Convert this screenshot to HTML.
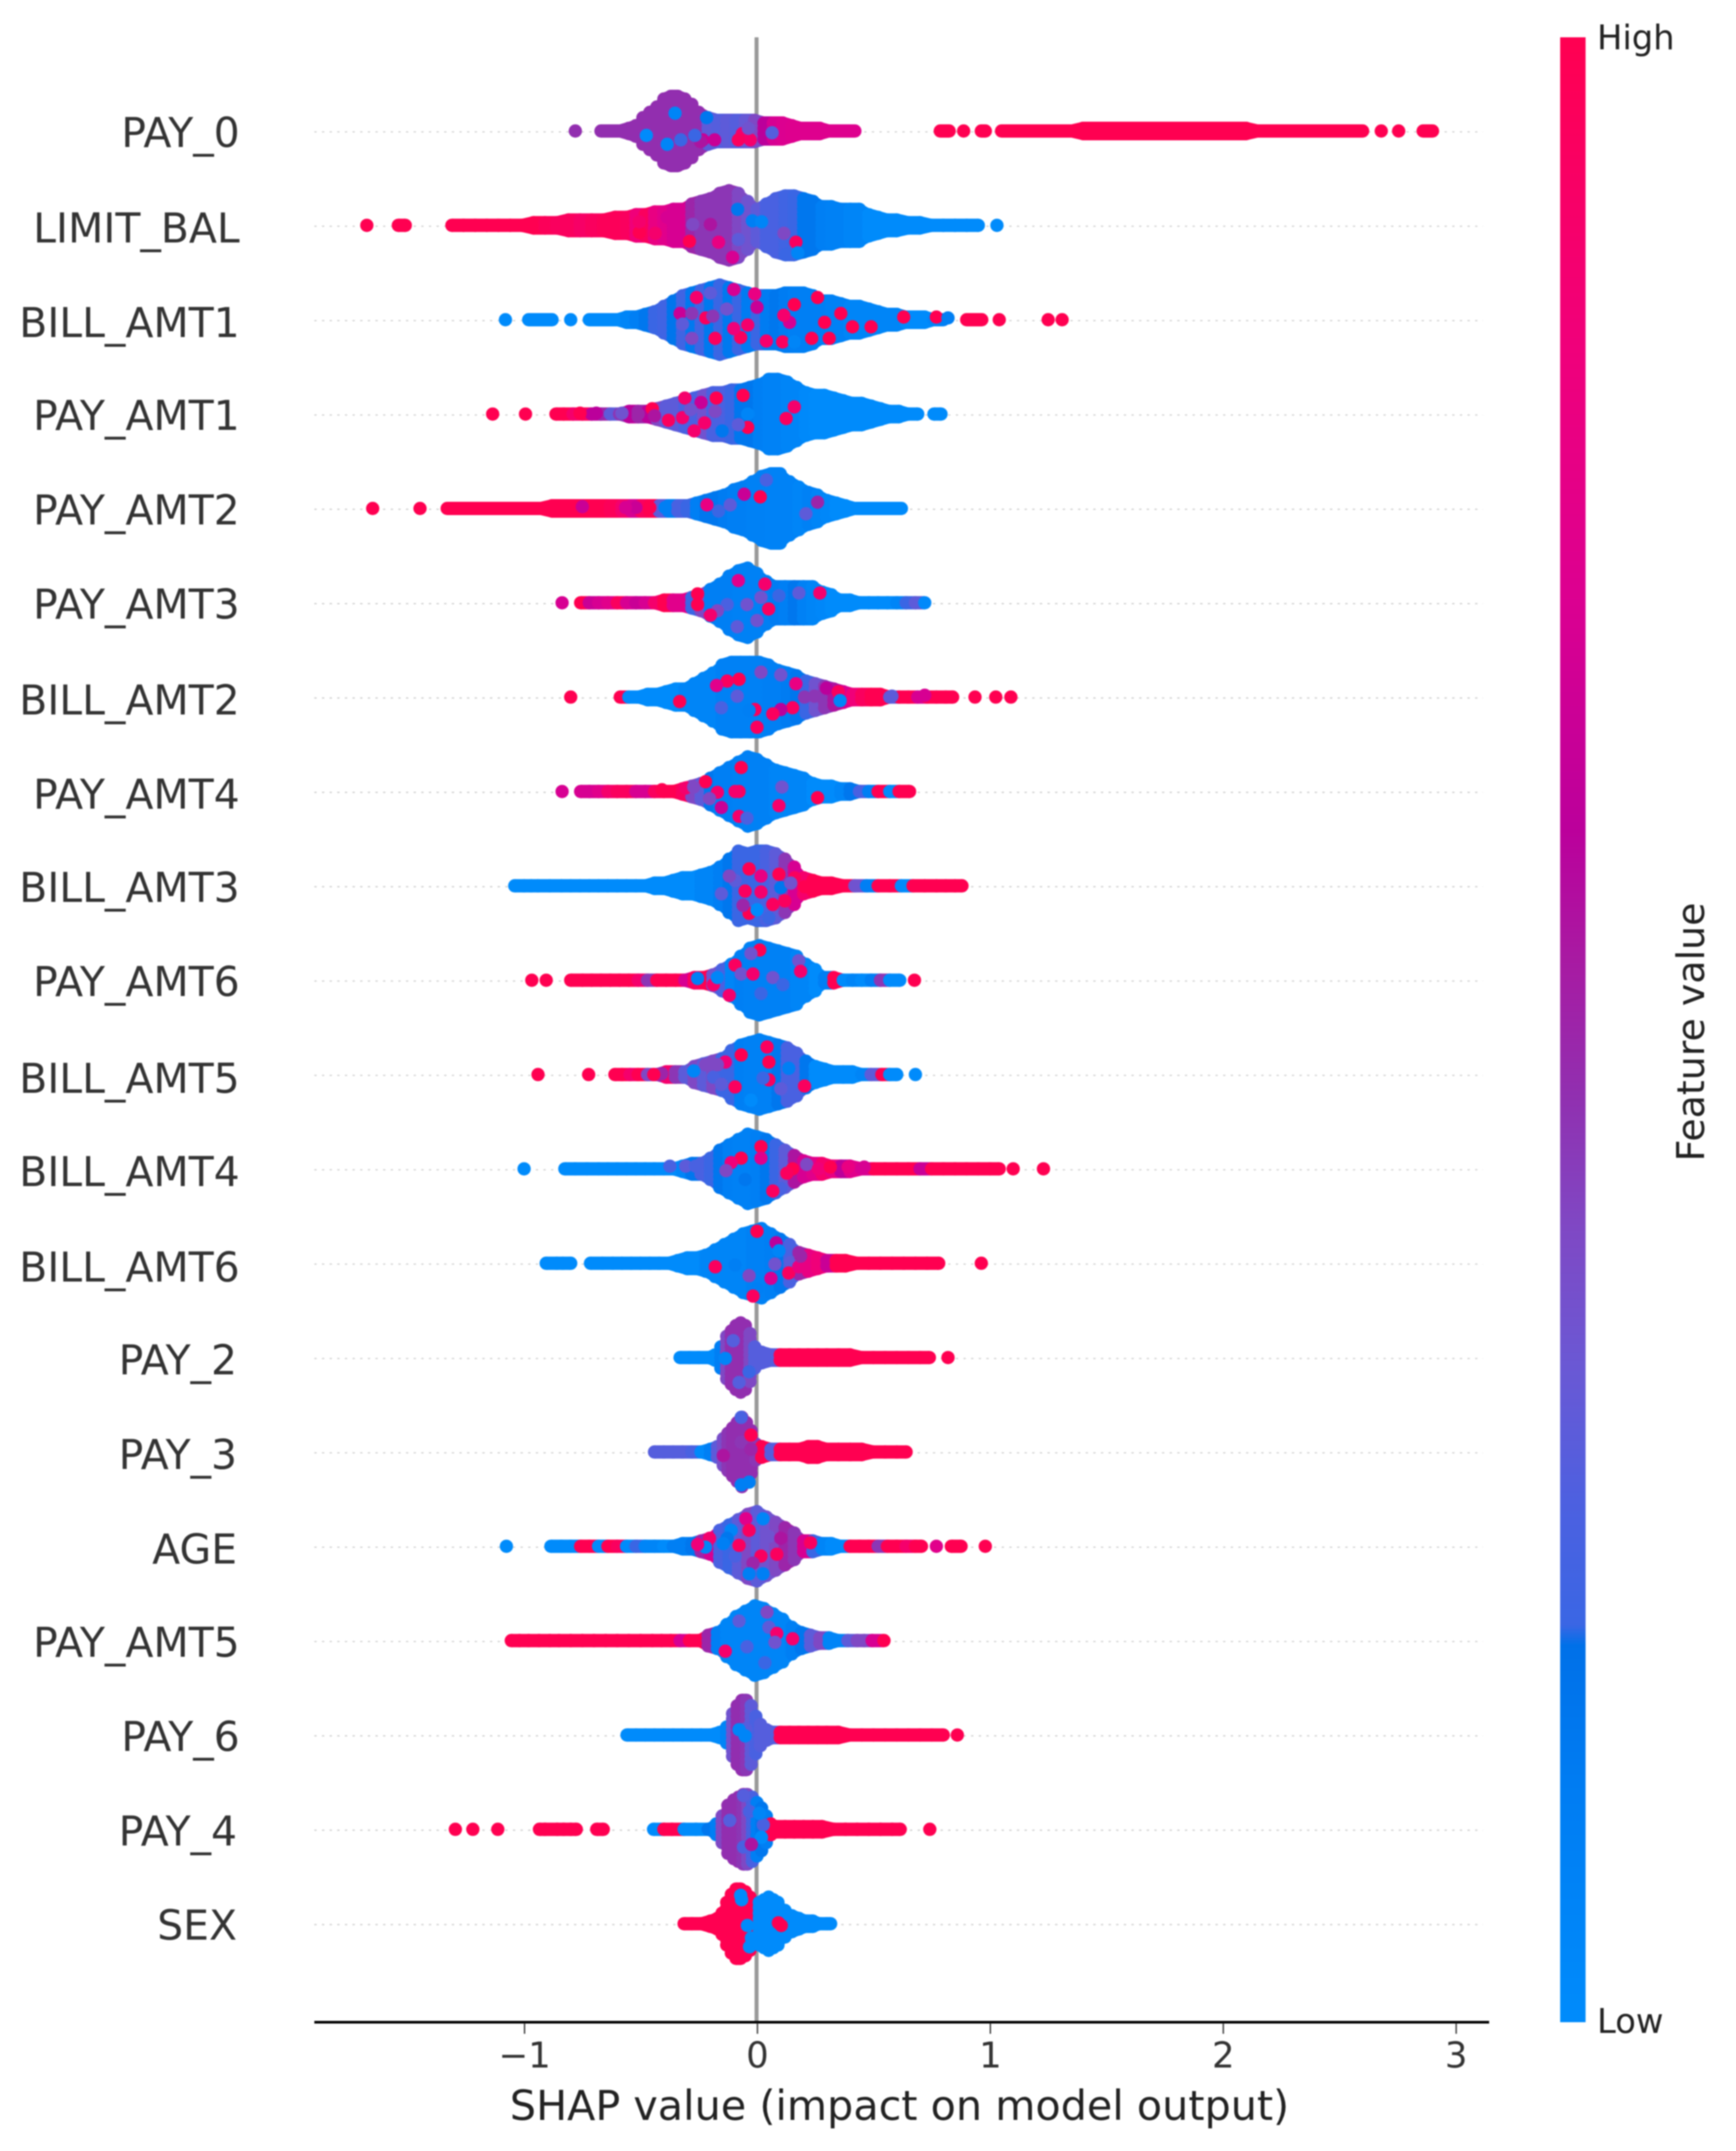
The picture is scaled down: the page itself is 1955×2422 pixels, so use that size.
<!DOCTYPE html>
<html lang="en">
<head>
<meta charset="utf-8">
<title>SHAP summary plot</title>
<style>
html,body{margin:0;padding:0;background:#fff;}
svg{display:block;filter:blur(.9px);font-family:"DejaVu Sans","Liberation Sans",sans-serif;}
</style>
</head>
<body>
<svg id="chart" xmlns="http://www.w3.org/2000/svg" width="1955" height="2422" viewBox="0 0 1955 2422">
  <defs><linearGradient id="cbar" x1="0" y1="0" x2="0" y2="1"></linearGradient></defs>
  <rect x="0" y="0" width="1955" height="2422" fill="#fff"/>
  <g id="grid"></g>
  <line x1="852" y1="42" x2="852" y2="2277" stroke="#999999" stroke-width="4.5"/>
  <g id="swarm"></g>
  <g id="labels"></g>
  <line x1="354" y1="2277" x2="1677" y2="2277" stroke="#000" stroke-width="3"/>
  <g id="ticks"></g>
  <text x="1013" y="2387" text-anchor="middle" font-size="46.5" fill="#222">SHAP value (impact on model output)</text>
  <rect x="1757" y="42" width="28.6" height="2235" fill="url(#cbar)"/>
  <text x="1798.5" y="55.5" font-size="38" fill="#222">High</text>
  <text x="1798.5" y="2289" font-size="38" fill="#222">Low</text>
  <text transform="translate(1919,1162) rotate(-90)" text-anchor="middle" font-size="42.7" fill="#222">Feature value</text>
</svg>
<script>
const featureNames=["PAY_0","LIMIT_BAL","BILL_AMT1","PAY_AMT1","PAY_AMT2","PAY_AMT3","BILL_AMT2","PAY_AMT4","BILL_AMT3","PAY_AMT6","BILL_AMT5","BILL_AMT4","BILL_AMT6","PAY_2","PAY_3","AGE","PAY_AMT5","PAY_6","PAY_4","SEX"];
const xTickValues=[-1,0,1,2,3];
const colorFractions=[0,.154,.28,.40,.465,.535,.60,.67,.74,.80,.81,.88,1];
const colorHexes=["#ff0051","#f0007a","#dc0090","#bb009b","#a81aa2","#9030b0","#7f48c4","#6a58d4","#4c60e0","#3a66e4","#0070e8","#007cf2","#008bfb"];

/* Each feature: SHAP bin, dots piled in the bin, lowness of feature value (0 = High, 1 = Low), plus individually visible dots */
const PAY_0_shap=[-.78,-.67,-.63,-.59,-.55,-.52,-.49,-.46,-.43,-.40,-.37,-.34,-.31,-.28,-.25,-.21,-.17,-.13,-.09,-.05,-.01,.03,.07,.11,.15,.19,.23,.27,.31,.35,.39,.42,.787,.825,.887,.963,.98,1.05,1.10,1.15,1.20,1.25,1.30,1.35,1.40,1.45,1.50,1.55,1.60,1.65,1.70,1.75,1.80,1.85,1.90,1.95,2.00,2.05,2.10,2.15,2.20,2.25,2.30,2.35,2.40,2.45,2.50,2.55,2.60,2.68,2.755,2.86,2.9];
const PAY_0_pile=[1,1,1,1,2,3,6,8,10,13,14,14,13,11,8,6,5,5,5,5,5,4,4,4,3,2,2,2,1,1,1,1,1,1,1,1,1,1,1,1,1,1,1,1,2,2,2,2,2,2,2,2,2,2,2,2,2,2,2,1,1,1,1,1,1,1,1,1,1,1,1,1,1];
const PAY_0_low=[.53,.53,.53,.53,.53,.53,.53,.53,.53,.53,.53,.53,.53,.53,.53,.7,.72,.7,.72,.68,.6,.4,.3,.28,.27,.27,.27,.27,.27,.27,.27,.27,0,0,0,0,0,0,0,0,0,0,0,0,0,0,0,0,0,0,0,0,0,0,0,0,0,0,0,0,0,0,0,0,0,0,0,0,0,0,0,0,0];
const PAY_0_spotShap=[-.475,-.352,-.327,-.233,-.182,-.063,-.029,.065,-.037,-.216,-.386,-.242,-.08,-.267];
const PAY_0_spotJitter=[5,-20,10,10,10,3,10,2,-3,-15,15,12,10,5];
const PAY_0_spotLow=[1,.95,.8,.35,.35,.1,.1,.72,.65,.85,.95,.45,.05,.8];

const LIMIT_BAL_shap=[-1.675,-1.54,-1.51,-1.31,-1.26,-1.21,-1.16,-1.11,-1.06,-1.01,-.96,-.91,-.86,-.81,-.76,-.71,-.66,-.61,-.56,-.52,-.48,-.44,-.40,-.36,-.32,-.28,-.24,-.20,-.16,-.12,-.08,-.04,0,.04,.08,.12,.16,.20,.24,.28,.32,.36,.40,.44,.48,.52,.56,.60,.65,.70,.75,.80,.85,.90,.95,1.03];
const LIMIT_BAL_pile=[1,1,1,1,1,1,1,1,1,1,2,2,2,3,3,3,3,4,4,5,5,6,6,7,7,9,10,11,13,14,13,10,7,9,11,12,12,11,10,8,8,7,7,7,5,4,3,3,2,2,1,1,1,1,1,1];
const LIMIT_BAL_low=[0,0,0,0,0,0,0,0,0,0,0,.03,.05,.05,.08,.05,.03,.03,.05,.15,.05,.2,.25,.3,.3,.5,.55,.55,.55,.55,.6,.65,.7,.75,.75,.78,.8,.85,.85,.9,.92,.92,.95,.95,1,1,1,1,1,1,1,1,1,1,1,1];
const LIMIT_BAL_spotShap=[-.083,-.02,-.29,-.505,-.437,-.386,.167,.124,.175,.116,-.105,-.165,-.2,-.276,-.08,.02,-.505];
const LIMIT_BAL_spotJitter=[-18,-5,18,8,9,-9,19,33,31,9,36,19,-1,-1,16,-4,-4];
const LIMIT_BAL_spotLow=[.85,.9,0,0,.1,.3,.05,.8,.95,.6,.3,.2,.45,.6,.7,.95,.1];

const BILL_AMT1_shap=[-1.08,-.98,-.94,-.90,-.88,-.80,-.72,-.68,-.64,-.60,-.56,-.52,-.48,-.44,-.40,-.36,-.32,-.28,-.24,-.20,-.16,-.12,-.08,-.04,0,.04,.08,.12,.16,.20,.24,.28,.32,.36,.40,.44,.48,.52,.56,.60,.64,.68,.72,.76,.80,.90,.93,.965,1.04,1.25,1.31];
const BILL_AMT1_pile=[1,1,1,1,1,1,1,1,1,1,2,2,3,4,6,8,10,11,12,13,14,13,12,11,10,10,10,11,11,11,10,8,8,7,6,6,5,4,3,3,2,2,2,1,1,1,1,1,1,1,1];
const BILL_AMT1_low=[1,1,1,1,1,1,1,1,1,1,.95,.9,.85,.8,.78,.84,.78,.86,.78,.86,.8,.86,.8,.88,.8,.88,.85,.88,.9,.9,.9,.9,.92,.92,.95,.95,.95,.95,.95,.95,1,1,1,.95,.9,0,0,0,0,0,0];
const BILL_AMT1_spotShap=[-.26,-.2,-.1,-.01,-.33,-.28,-.22,-.19,-.13,0,-.04,-.18,-.07,.04,.11,.16,-.1,.16,.26,.235,.31,.29,.41,.49,.36,.63,.77,.82,.14,.115,-.32,-.28];
const BILL_AMT1_spotJitter=[-25,-30,-34,-29,-7,-7,-2,-4,-12,-14,6,21,20,24,25,25,10,-17,-25,21,21,3,8,8,-7,-3,-3,-2,3,-5,5,21];
const BILL_AMT1_spotLow=[.1,.7,.3,.2,.35,.55,.05,.55,.65,.35,.1,.05,.05,.1,.05,.95,.15,0,0,0,0,0,0,0,0,0,0,.9,.3,.1,.7,.6];

const PAY_AMT1_shap=[-1.135,-.994,-.863,-.83,-.79,-.75,-.71,-.67,-.63,-.59,-.55,-.51,-.47,-.43,-.39,-.35,-.31,-.27,-.23,-.19,-.15,-.11,-.07,-.03,.01,.05,.09,.13,.17,.21,.25,.29,.33,.37,.41,.45,.49,.53,.57,.61,.65,.69,.76,.79];
const PAY_AMT1_pile=[1,1,1,1,1,1,1,1,1,1,2,2,2,3,4,5,6,7,8,9,9,10,10,11,12,14,14,13,11,9,8,8,7,6,5,5,4,3,2,2,1,1,1,1];
const PAY_AMT1_low=[0,0,0,0,.1,.05,.4,.5,.7,.55,.4,.5,.4,.6,.7,.7,.75,.75,.65,.75,.75,.8,.85,.85,.9,.93,.93,.95,.95,.98,1,1,1,1,1,1,1,1,1,1,1,1,1,1];
const PAY_AMT1_spotShap=[-.76,-.69,-.58,-.51,-.45,-.44,-.24,-.175,-.06,-.225,-.04,.125,.16,-.31,-.38,-.32,-.15,-.08,-.18,-.39,-.04,-.285,-.27];
const PAY_AMT1_spotJitter=[-1,-1,-1,0,-6,2,-13,-18,-21,10,15,5,-8,-18,7,4,19,12,-3,-8,0,-5,19];
const PAY_AMT1_spotLow=[0,.4,.65,.5,0,.45,.35,0,0,.1,0,.05,.1,.1,.05,.1,.85,.7,.6,.7,.95,.65,.1];

const PAY_AMT2_shap=[-1.65,-1.447,-1.33,-1.28,-1.23,-1.18,-1.13,-1.08,-1.03,-.98,-.93,-.88,-.83,-.78,-.73,-.68,-.63,-.58,-.54,-.5,-.46,-.42,-.38,-.34,-.3,-.26,-.22,-.18,-.14,-.10,-.06,-.02,.02,.06,.10,.14,.18,.22,.26,.30,.34,.38,.42,.47,.52,.57,.62];
const PAY_AMT2_pile=[1,1,1,1,1,1,1,1,1,1,1,2,2,2,2,2,2,2,2,2,2,2,2,2,2,3,4,5,6,8,9,11,13,14,14,11,9,7,6,4,3,2,1,1,1,1,1];
const PAY_AMT2_low=[0,0,0,0,0,0,0,0,0,0,0,0,0,0,0,0,.03,.1,.3,.05,0,.7,.9,.75,.8,.9,.85,.85,.88,.9,.9,.92,.92,.93,.93,.93,.95,.92,.95,.97,1,1,1,1,1,1,1];
const PAY_AMT2_spotShap=[-.055,.014,.04,-.165,.26,-.115,.21,-.215,-.395,-.46,-.52,-.565,-.75];
const PAY_AMT2_spotJitter=[-16,-13,-32,3,-7,-4,6,-4,-1,-1,-1,-1,-2];
const PAY_AMT2_spotLow=[.35,0,.75,.8,.5,.7,.7,.2,.9,0,.35,.3,.35];

const PAY_AMT3_shap=[-.837,-.757,-.72,-.68,-.64,-.60,-.56,-.52,-.48,-.44,-.40,-.36,-.32,-.28,-.24,-.20,-.16,-.12,-.08,-.04,0,.04,.08,.12,.16,.20,.24,.28,.32,.36,.40,.44,.48,.52,.56,.60,.64,.68,.72];
const PAY_AMT3_pile=[1,1,1,1,1,1,1,1,1,1,2,2,2,3,4,6,8,11,13,14,12,9,7,7,7,7,7,5,4,2,2,1,1,1,1,1,1,1,1];
const PAY_AMT3_low=[.3,0,.35,.3,.25,.05,.3,.35,.3,.1,0,.25,.25,.8,.6,.9,.9,.9,.92,.92,.92,.9,.88,.9,.85,.92,.95,.97,1,1,1,1,1,1,1,.95,.8,.7,.98];
const PAY_AMT3_spotShap=[-.08,-.255,-.255,.017,-.043,-.128,.27,-.17,0,-.085,-.2,.18,.094,.034,.05];
const PAY_AMT3_spotJitter=[-25,-10,2,-6,2,2,-11,9,20,27,14,-11,-8,-21,7];
const PAY_AMT3_spotLow=[.25,0,0,.65,.65,.75,.1,.6,.65,.7,.1,.7,.8,.1,.05];

const BILL_AMT2_shap=[-.8,-.587,-.55,-.51,-.47,-.43,-.39,-.35,-.31,-.27,-.23,-.19,-.15,-.11,-.07,-.03,.01,.05,.09,.13,.17,.21,.25,.29,.33,.37,.41,.45,.49,.53,.57,.61,.65,.69,.73,.77,.81,.84,.936,1.025,1.09];
const BILL_AMT2_pile=[1,1,1,1,2,2,3,4,4,6,8,10,13,14,14,14,14,13,11,10,9,7,6,5,4,3,2,2,2,2,1,1,1,1,1,1,1,1,1,1,1];
const BILL_AMT2_low=[0,0,1,1,1,1,1,1,.95,.95,.95,.95,.92,.92,.92,.92,.92,.9,.9,.88,.85,.8,.65,.55,.45,.3,.15,.05,0,0,.7,0,0,.3,0,0,0,0,0,0,0];
const BILL_AMT2_spotShap=[-.077,-.128,-.174,-.085,.017,.102,.167,.204,.247,.298,.349,.357,.153,.102,.068,-.009,-.034,0,-.332,-.153,.579,.72];
const BILL_AMT2_spotJitter=[-20,-18,-13,-1,-28,-25,-15,0,-1,-10,-6,4,12,14,19,14,15,34,5,12,-1,-2];
const BILL_AMT2_spotLow=[0,.05,.25,.7,.6,.65,.2,.55,.55,.4,.05,.95,.05,.4,.05,.05,.9,.05,0,.75,.7,.3];

const PAY_AMT4_shap=[-.837,-.757,-.72,-.68,-.64,-.60,-.56,-.52,-.48,-.44,-.40,-.36,-.32,-.28,-.24,-.20,-.16,-.12,-.08,-.04,0,.04,.08,.12,.16,.20,.24,.28,.32,.36,.40,.44,.48,.52,.57,.61,.655];
const PAY_AMT4_pile=[1,1,1,1,1,1,1,1,1,1,1,1,2,3,4,6,8,10,12,14,13,11,9,8,7,6,4,3,3,2,2,1,1,1,1,1,1];
const PAY_AMT4_low=[.3,.3,.3,.25,.1,.05,.05,.3,.3,.05,0,0,.05,.6,.7,.85,.9,.9,.92,.92,.92,.92,.95,.95,.95,.95,1,1,1,.95,.85,.75,.9,0,1,0,0];
const PAY_AMT4_spotShap=[-.221,-.306,-.272,-.408,-.17,-.204,-.153,-.077,-.043,.107,.26,.094,-.077,-.068,-.094];
const PAY_AMT4_spotJitter=[-11,-4,-5,-2,1,8,18,28,30,-5,7,16,0,-27,0];
const PAY_AMT4_spotLow=[0,.1,.6,0,.1,.6,.35,.1,.75,.65,0,.1,.05,0,.1];

const BILL_AMT3_shap=[-1.04,-1.0,-.97,-.94,-.89,-.84,-.80,-.76,-.72,-.68,-.64,-.60,-.56,-.52,-.48,-.44,-.40,-.36,-.32,-.28,-.24,-.20,-.16,-.12,-.08,-.04,0,.04,.08,.12,.16,.20,.24,.28,.32,.37,.42,.47,.52,.57,.62,.67,.72,.77,.81,.85,.88];
const BILL_AMT3_pile=[1,1,1,1,1,1,1,1,1,1,1,1,1,1,1,2,2,3,4,4,5,6,8,11,14,13,14,14,13,11,8,4,3,2,2,1,1,1,1,1,1,1,1,1,1,1,1];
const BILL_AMT3_low=[1,1,1,1,1,1,1,1,1,1,1,1,1,1,1,1,1,1,1,1,.95,.95,.9,.85,.8,.8,.8,.75,.7,.55,.3,.1,0,0,0,0,.65,.9,0,0,1,0,0,0,0,0,0];
const BILL_AMT3_spotShap=[-.034,.017,.094,.162,-.094,-.119,-.051,.017,.068,.119,-.034,0,.051,-.06,.102,.145,-.153,.204];
const BILL_AMT3_spotJitter=[-19,-11,-13,-9,-6,-11,6,7,21,17,31,27,36,22,2,-3,9,1];
const BILL_AMT3_spotLow=[0,.2,0,.05,.7,.6,.05,.1,.05,.05,0,1,.8,.5,.85,.65,.7,0];

const PAY_AMT6_shap=[-.967,-.905,-.8,-.75,-.71,-.67,-.63,-.59,-.55,-.51,-.47,-.43,-.39,-.35,-.31,-.27,-.23,-.19,-.15,-.11,-.07,-.03,.01,.05,.09,.13,.17,.21,.25,.29,.33,.37,.41,.45,.49,.53,.57,.613,.676];
const PAY_AMT6_pile=[1,1,1,1,1,1,1,1,1,1,1,1,1,1,1,2,2,3,5,7,10,13,14,13,12,11,10,7,5,2,2,1,1,1,1,1,1,1,1];
const PAY_AMT6_low=[0,0,0,0,0,0,0,0,0,.1,.55,0,0,0,.3,.05,0,.65,.75,.95,.9,.92,.92,.92,.92,.92,.95,.95,1,.9,0,1,.95,1,.9,.55,1,1,0];
const PAY_AMT6_spotShap=[.012,-.026,-.094,-.068,-.017,.068,.179,.187,-.119,.017,-.187,-.17,-.255,.111];
const PAY_AMT6_spotJitter=[-34,-30,-17,-7,-7,-3,-22,-10,17,15,5,-3,-2,5];
const PAY_AMT6_spotLow=[0,.65,.05,.65,.1,.65,.65,.1,.1,.8,.1,.95,.9,.8];

const BILL_AMT5_shap=[-.94,-.723,-.61,-.58,-.545,-.51,-.47,-.43,-.39,-.35,-.31,-.27,-.23,-.19,-.15,-.11,-.07,-.03,.01,.05,.09,.13,.17,.21,.25,.29,.33,.37,.41,.45,.49,.536,.57,.60,.68];
const BILL_AMT5_pile=[1,1,1,1,1,1,1,1,2,2,2,4,5,6,7,10,12,13,14,13,12,11,9,6,4,3,2,2,2,1,1,1,1,1,1];
const BILL_AMT5_low=[0,0,0,0,.1,0,.6,.5,.1,.55,.7,.6,.7,.6,.8,.8,.9,.92,.92,.92,.85,.75,.75,.85,1,1,1,1,1,.95,.7,0,1,1,1];
const BILL_AMT5_spotShap=[-.068,.051,.043,.051,-.094,.204,-.187,-.153,-.272,.026,.136,-.136,-.221,-.409,-.026,.102,-.17,-.443];
const BILL_AMT5_spotJitter=[-22,-14,-31,6,14,13,3,11,-4,4,-7,-14,-11,-1,29,16,-11,0];
const BILL_AMT5_spotLow=[0,0,.05,.05,.05,.05,.75,.7,.95,.8,.9,.15,.6,.5,1,.7,.6,0];

const BILL_AMT4_shap=[-1.0,-.825,-.78,-.73,-.68,-.64,-.60,-.56,-.52,-.48,-.44,-.40,-.36,-.32,-.28,-.24,-.20,-.16,-.12,-.08,-.04,0,.04,.08,.12,.16,.20,.24,.28,.32,.36,.40,.45,.50,.55,.60,.65,.70,.75,.80,.85,.90,.95,1.0,1.04,1.1,1.23];
const BILL_AMT4_pile=[1,1,1,1,1,1,1,1,1,1,1,1,1,2,3,3,5,8,10,12,14,13,12,10,8,6,4,3,3,2,2,2,1,1,1,1,1,1,1,1,1,1,1,1,1,1,1];
const BILL_AMT4_low=[1,1,1,1,1,1,1,1,1,1,1,1,1,.95,.85,.75,.8,.85,.9,.92,.92,.9,.85,.8,.7,.45,.3,.25,.1,.2,.4,.25,.3,0,0,0,0,.35,0,0,0,0,0,0,0,0,0];
const BILL_AMT4_spotShap=[.017,-.068,.017,-.111,-.133,.153,.213,.264,.128,.315,.391,.46,-.051,.102,.068,-.374,-.306,-.264];
const BILL_AMT4_spotJitter=[-25,-12,-12,-7,2,0,-5,0,5,-2,-2,-2,12,22,25,-3,-3,-3];
const BILL_AMT4_spotLow=[0,0,.25,.15,.6,0,.6,.15,.05,0,.2,.3,.85,.75,.05,.75,.7,.75];

const BILL_AMT6_shap=[-.905,-.86,-.834,-.8,-.715,-.664,-.62,-.58,-.54,-.50,-.46,-.42,-.38,-.34,-.30,-.26,-.22,-.18,-.14,-.10,-.06,-.02,.02,.06,.10,.14,.18,.22,.26,.30,.34,.38,.43,.48,.53,.58,.63,.68,.73,.78,.963];
const BILL_AMT6_pile=[1,1,1,1,1,1,1,1,1,1,1,1,1,2,3,3,4,6,8,10,12,13,14,12,10,8,5,4,3,2,2,2,1,1,1,1,1,1,1,1,1];
const BILL_AMT6_low=[1,1,1,1,1,1,1,1,1,1,1,1,1,1,1,1,.95,.95,.95,.95,.95,.92,.92,.9,.85,.75,.5,.2,.15,.35,0,0,0,0,0,0,0,0,0,0,0];
const BILL_AMT6_spotShap=[0,.082,.077,.145,.06,-.179,-.094,-.034,0,.136,.179,-.017,.094,.187];
const BILL_AMT6_spotJitter=[-36,-23,1,-1,17,4,2,14,29,11,4,37,-14,-8];
const BILL_AMT6_spotLow=[0,.4,.65,.7,.3,.05,.9,.6,.9,.05,.2,.05,.95,.5];

const PAY_2_shap=[-.33,-.29,-.25,-.21,-.18,-.155,-.13,-.11,-.09,-.07,-.05,-.03,-.01,.02,.06,.10,.14,.18,.22,.26,.30,.35,.40,.45,.50,.55,.60,.65,.70,.74,.82];
const PAY_2_pile=[1,1,1,1,2,5,9,11,13,14,13,10,5,3,2,2,2,2,2,2,2,2,2,1,1,1,1,1,1,1,1];
const PAY_2_low=[1,1,1,1,1,.9,.6,.53,.53,.53,.53,.6,.72,.72,.72,0,0,0,0,0,0,0,0,0,0,0,0,0,0,0,0];
const PAY_2_spotShap=[-.102,-.077,-.136,-.034];
const PAY_2_spotJitter=[-19,28,1,16];
const PAY_2_spotLow=[.72,.72,.95,.8];

const PAY_3_shap=[-.44,-.40,-.36,-.32,-.28,-.24,-.20,-.17,-.145,-.125,-.105,-.085,-.065,-.045,-.025,-.005,.02,.06,.10,.14,.18,.22,.26,.30,.35,.40,.45,.50,.55,.60,.64];
const PAY_3_pile=[1,1,1,1,1,1,2,3,6,8,10,12,14,12,9,4,3,2,2,2,2,3,3,2,2,2,2,1,1,1,1];
const PAY_3_low=[.72,.72,.72,.72,.75,.98,.9,.7,.62,.55,.53,.53,.53,.53,.53,.55,0,.72,0,0,0,0,0,0,0,0,0,0,0,0,0];
const PAY_3_spotShap=[-.068,-.068,-.026,-.145,-.026,-.068,-.034];
const PAY_3_spotJitter=[-39,-11,-19,4,-3,37,34];
const PAY_3_spotLow=[.75,.55,0,.45,.5,.9,.9];

const AGE_shap=[-1.076,-.885,-.84,-.80,-.757,-.72,-.68,-.64,-.60,-.56,-.52,-.48,-.44,-.40,-.36,-.32,-.28,-.24,-.20,-.16,-.12,-.08,-.04,0,.04,.08,.12,.16,.20,.24,.28,.32,.36,.40,.44,.48,.52,.56,.60,.64,.68,.706,.77,.834,.876,.98];
const AGE_pile=[1,1,1,1,1,1,1,1,1,1,1,1,1,1,1,2,2,3,4,7,9,11,13,14,12,10,8,6,3,3,2,2,1,1,1,1,1,1,1,1,1,1,1,1,1,1];
const AGE_low=[1,1,1,1,0,0,1,0,.05,1,.8,.95,.95,1,.9,.9,.85,.5,.3,.75,.8,.7,.6,.7,.65,.6,.5,.55,.3,.8,.95,1,1,0,0,0,.55,0,0,.1,0,0,.25,0,0,0];
const AGE_spotShap=[-.048,.026,-.034,-.111,-.128,-.204,-.221,-.145,-.094,.017,.085,.051,.102,-.017,.026,-.034,.23,-.077,-.255];
const AGE_spotJitter=[-31,-31,-18,-18,-9,-9,1,-3,11,11,9,-11,-9,19,31,31,-4,-1,-2];
const AGE_spotLow=[.25,.95,.05,.95,.85,.1,.95,.9,.75,.05,.05,.65,.45,.5,.9,.9,.05,.05,.15];

const PAY_AMT5_shap=[-1.055,-1.02,-.98,-.936,-.89,-.85,-.80,-.75,-.70,-.65,-.60,-.55,-.50,-.45,-.41,-.37,-.33,-.29,-.25,-.21,-.17,-.13,-.09,-.05,-.01,.03,.07,.11,.15,.19,.23,.27,.31,.35,.39,.43,.46,.494,.545];
const PAY_AMT5_pile=[1,1,1,1,1,1,1,1,1,1,1,1,1,1,1,1,1,1,1,3,4,7,10,12,14,13,11,9,6,4,3,2,2,1,1,1,1,1,1];
const PAY_AMT5_low=[0,0,0,0,0,0,0,0,0,0,0,0,0,0,0,0,.3,0,0,.5,.9,.95,.95,.95,.95,.95,.95,.95,.9,.85,.7,.6,.95,.95,.7,.6,.6,.3,0];
const PAY_AMT5_spotShap=[-.077,.043,.051,.085,.077,.153,-.043,.034,-.136];
const PAY_AMT5_spotJitter=[-22,-32,-15,-8,2,-2,7,25,12];
const PAY_AMT5_spotLow=[.7,.6,.7,.1,.65,.1,.75,.8,.1];

const PAY_6_shap=[-.558,-.52,-.48,-.44,-.40,-.36,-.32,-.28,-.24,-.20,-.16,-.13,-.105,-.085,-.065,-.045,-.025,-.005,.015,.04,.07,.10,.14,.18,.22,.26,.30,.35,.40,.45,.50,.55,.60,.65,.70,.75,.80,.86];
const PAY_6_pile=[1,1,1,1,1,1,1,1,1,1,2,4,9,12,14,14,12,8,5,3,2,2,2,2,2,2,2,2,1,1,1,1,1,1,1,1,1,1];
const PAY_6_low=[1,1,1,1,1,1,1,1,1,1,1,.95,.65,.53,.53,.55,.7,.75,.72,.72,.72,0,0,0,0,0,0,0,0,0,0,0,0,0,0,0,0,0];
const PAY_6_spotShap=[-.048,-.051,-.077];
const PAY_6_spotJitter=[-7,1,-6];
const PAY_6_spotLow=[.72,.95,.95];

const PAY_4_shap=[-1.295,-1.22,-1.113,-.934,-.91,-.858,-.83,-.80,-.776,-.688,-.66,-.444,-.40,-.365,-.313,-.262,-.21,-.175,-.15,-.125,-.10,-.08,-.06,-.04,-.02,0,.02,.04,.06,.08,.12,.16,.20,.24,.28,.33,.38,.43,.48,.53,.58,.615,.742];
const PAY_4_pile=[1,1,1,1,1,1,1,1,1,1,1,1,1,1,1,1,1,3,6,10,12,13,14,14,13,11,9,6,3,2,2,2,2,2,2,1,1,1,1,1,1,1,1];
const PAY_4_low=[0,0,0,0,0,0,0,0,0,0,0,1,0,0,1,1,.85,.9,.6,.53,.53,.53,.55,.6,.75,.9,.85,.9,0,0,0,0,0,0,0,0,0,0,0,0,0,0,0];
const PAY_4_spotShap=[-.058,-.117,-.032,.027,.019,-.058,-.024,.01];
const PAY_4_spotJitter=[-38,-10,-20,-5,9,20,17,-18];
const PAY_4_spotLow=[.72,.72,.75,.75,1,.75,.45,.95];

const SEX_shap=[-.313,-.28,-.24,-.20,-.17,-.15,-.13,-.11,-.09,-.07,-.05,-.03,-.01,.01,.03,.05,.07,.09,.12,.15,.18,.21,.24,.27,.30,.316];
const SEX_pile=[1,1,1,2,3,5,9,12,14,14,13,11,8,9,10,11,10,9,6,4,3,2,2,1,1,1];
const SEX_low=[0,0,0,0,0,0,0,0,0,0,0,0,0,1,1,1,1,1,1,1,1,1,1,1,1,1];
const SEX_spotShap=[-.07,-.066,-.041,-.024,-.032,.092,.104];
const SEX_spotJitter=[-32,-27,2,16,26,-1,2];
const SEX_spotLow=[1,1,1,1,1,0,0];

const rowShap=[PAY_0_shap,LIMIT_BAL_shap,BILL_AMT1_shap,PAY_AMT1_shap,PAY_AMT2_shap,PAY_AMT3_shap,BILL_AMT2_shap,PAY_AMT4_shap,BILL_AMT3_shap,PAY_AMT6_shap,BILL_AMT5_shap,BILL_AMT4_shap,BILL_AMT6_shap,PAY_2_shap,PAY_3_shap,AGE_shap,PAY_AMT5_shap,PAY_6_shap,PAY_4_shap,SEX_shap];
const rowPile=[PAY_0_pile,LIMIT_BAL_pile,BILL_AMT1_pile,PAY_AMT1_pile,PAY_AMT2_pile,PAY_AMT3_pile,BILL_AMT2_pile,PAY_AMT4_pile,BILL_AMT3_pile,PAY_AMT6_pile,BILL_AMT5_pile,BILL_AMT4_pile,BILL_AMT6_pile,PAY_2_pile,PAY_3_pile,AGE_pile,PAY_AMT5_pile,PAY_6_pile,PAY_4_pile,SEX_pile];
const rowLow=[PAY_0_low,LIMIT_BAL_low,BILL_AMT1_low,PAY_AMT1_low,PAY_AMT2_low,PAY_AMT3_low,BILL_AMT2_low,PAY_AMT4_low,BILL_AMT3_low,PAY_AMT6_low,BILL_AMT5_low,BILL_AMT4_low,BILL_AMT6_low,PAY_2_low,PAY_3_low,AGE_low,PAY_AMT5_low,PAY_6_low,PAY_4_low,SEX_low];
const rowSpotShap=[PAY_0_spotShap,LIMIT_BAL_spotShap,BILL_AMT1_spotShap,PAY_AMT1_spotShap,PAY_AMT2_spotShap,PAY_AMT3_spotShap,BILL_AMT2_spotShap,PAY_AMT4_spotShap,BILL_AMT3_spotShap,PAY_AMT6_spotShap,BILL_AMT5_spotShap,BILL_AMT4_spotShap,BILL_AMT6_spotShap,PAY_2_spotShap,PAY_3_spotShap,AGE_spotShap,PAY_AMT5_spotShap,PAY_6_spotShap,PAY_4_spotShap,SEX_spotShap];
const rowSpotJitter=[PAY_0_spotJitter,LIMIT_BAL_spotJitter,BILL_AMT1_spotJitter,PAY_AMT1_spotJitter,PAY_AMT2_spotJitter,PAY_AMT3_spotJitter,BILL_AMT2_spotJitter,PAY_AMT4_spotJitter,BILL_AMT3_spotJitter,PAY_AMT6_spotJitter,BILL_AMT5_spotJitter,BILL_AMT4_spotJitter,BILL_AMT6_spotJitter,PAY_2_spotJitter,PAY_3_spotJitter,AGE_spotJitter,PAY_AMT5_spotJitter,PAY_6_spotJitter,PAY_4_spotJitter,SEX_spotJitter];
const rowSpotLow=[PAY_0_spotLow,LIMIT_BAL_spotLow,BILL_AMT1_spotLow,PAY_AMT1_spotLow,PAY_AMT2_spotLow,PAY_AMT3_spotLow,BILL_AMT2_spotLow,PAY_AMT4_spotLow,BILL_AMT3_spotLow,PAY_AMT6_spotLow,BILL_AMT5_spotLow,BILL_AMT4_spotLow,BILL_AMT6_spotLow,PAY_2_spotLow,PAY_3_spotLow,AGE_spotLow,PAY_AMT5_spotLow,PAY_6_spotLow,PAY_4_spotLow,SEX_spotLow];

const NS='http://www.w3.org/2000/svg';
function xScale(v){return 852.5+262.3*v;}
function yScale(i){return 148.5+106.24*i;}
function labelNudgeX(name){return ['PAY_2','PAY_3','PAY_4','AGE','SEX'].includes(name)?-3:0;}
function labelNudgeY(name){
  if(['BILL_AMT5','BILL_AMT6'].includes(name))return 2.5;
  if(['LIMIT_BAL','BILL_AMT1','BILL_AMT2','PAY_AMT4','BILL_AMT4','AGE'].includes(name))return 1.5;
  if(['PAY_2','PAY_3'].includes(name))return 1;
  return 0;
}
function hexToRgb(h){return [parseInt(h.slice(1,3),16),parseInt(h.slice(3,5),16),parseInt(h.slice(5,7),16)];}
function colorFor(low){
  const t=Math.max(0,Math.min(1,low));
  for(let i=1;i<colorFractions.length;i++){
    if(t<=colorFractions[i]){
      const a=hexToRgb(colorHexes[i-1]);
      const b=hexToRgb(colorHexes[i]);
      const f=(t-colorFractions[i-1])/(colorFractions[i]-colorFractions[i-1]);
      return 'rgb('+a.map((c,k)=>Math.round(c+(b[k]-c)*f)).join(',')+')';
    }
  }
  return colorHexes[colorHexes.length-1];
}
const gradient=document.getElementById('cbar');
colorFractions.forEach((f,i)=>{
  const stop=document.createElementNS(NS,'stop');
  stop.setAttribute('offset',f);
  stop.setAttribute('stop-color',colorHexes[i]);
  gradient.appendChild(stop);
});
const gridLayer=document.getElementById('grid');
const swarmLayer=document.getElementById('swarm');
const labelLayer=document.getElementById('labels');
const tickLayer=document.getElementById('ticks');
const pileStep=6;
const dotRadius=7.5;
const contiguousGap=.055;
featureNames.forEach((name,r)=>{
  const y=yScale(r);
  const guide=document.createElementNS(NS,'line');
  
  
  guide.setAttribute('x1',354);
  guide.setAttribute('x2',1670);
  guide.setAttribute('y1',y);
  guide.setAttribute('y2',y);
  guide.setAttribute('stroke','#cccccc');
  guide.setAttribute('stroke-width','1.3');
  guide.setAttribute('stroke-dasharray','2.6 6');
  gridLayer.appendChild(guide);

  const label=document.createElementNS(NS,'text');
  
  
  label.setAttribute('x',270+labelNudgeX(name));
  label.setAttribute('y',y+17+labelNudgeY(name));
  label.setAttribute('text-anchor','end');
  label.setAttribute('font-size','46.1');
  label.setAttribute('fill','#333333');
  label.textContent=name;
  labelLayer.appendChild(label);

  const group=document.createElementNS(NS,'g');
  
  
  const shap=rowShap[r],pile=rowPile[r],low=rowLow[r];
  const halfHeight=n=>dotRadius+(n-1)/2*pileStep;
  shap.forEach((v,i)=>{
    const n=pile[i]||1;
    const next=i+1<shap.length?shap[i+1]:null;
    if(next!==null&&next-v<=contiguousGap){
      const h0=halfHeight(n);
      const h1=halfHeight(pile[i+1]||1);
      const x0=xScale(v).toFixed(1);
      const x1=xScale(next).toFixed(1);
      const band=document.createElementNS(NS,'polygon');
      
      
      band.setAttribute('points',x0+','+(y-1-h0).toFixed(1)+' '+x1+','+(y-1-h1).toFixed(1)+' '+x1+','+(y-1+h1).toFixed(1)+' '+x0+','+(y-1+h0).toFixed(1));
      band.setAttribute('fill',colorFor(low[i]));
      group.appendChild(band);
    }
    for(let k=0;k<n;k++){
      const dot=document.createElementNS(NS,'circle');
      
      
      dot.setAttribute('cx',xScale(v).toFixed(1));
      dot.setAttribute('cy',(y-1+(k-(n-1)/2)*pileStep).toFixed(1));
      dot.setAttribute('r',dotRadius);
      dot.setAttribute('fill',colorFor(low[i]));
      group.appendChild(dot);
    }
  });
  rowSpotShap[r].forEach((v,i)=>{
    const spot=document.createElementNS(NS,'circle');
    
    
    spot.setAttribute('cx',xScale(v).toFixed(1));
    spot.setAttribute('cy',(y-1+rowSpotJitter[r][i]).toFixed(1));
    spot.setAttribute('r',dotRadius);
    spot.setAttribute('fill',colorFor(rowSpotLow[r][i]));
    group.appendChild(spot);
  });
  swarmLayer.appendChild(group);
});
xTickValues.forEach(t=>{
  const x=xScale(t)+.5;
  const tick=document.createElementNS(NS,'line');
  
  
  tick.setAttribute('x1',x);
  tick.setAttribute('x2',x);
  tick.setAttribute('y1',2278);
  tick.setAttribute('y2',2290);
  tick.setAttribute('stroke','#333333');
  tick.setAttribute('stroke-width','1.5');
  tickLayer.appendChild(tick);
  const text=document.createElementNS(NS,'text');
  
  
  text.setAttribute('x',x);
  text.setAttribute('y',2328);
  text.setAttribute('text-anchor','middle');
  text.setAttribute('font-size','40');
  text.setAttribute('fill','#333333');
  text.textContent=t<0?'\u2212'+Math.abs(t):String(t);
  tickLayer.appendChild(text);
});
</script>
</body>
</html>
